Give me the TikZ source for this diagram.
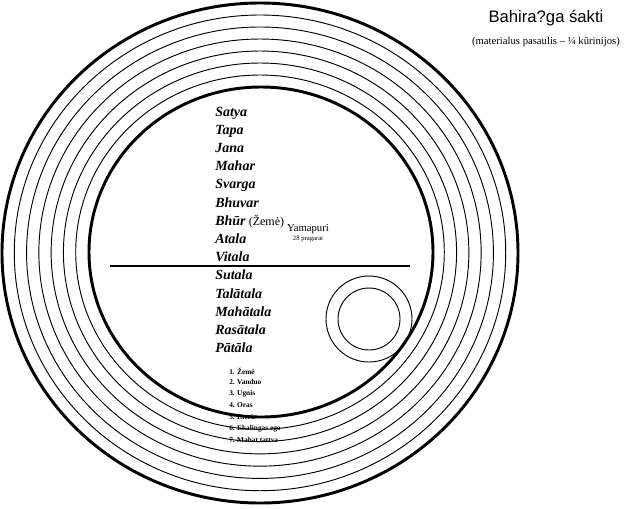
\documentclass[tikz,border=0pt]{standalone}
\usepackage{fontspec}
\setmainfont{Liberation Serif}
\newfontfamily\titlefont{Liberation Sans}
\usetikzlibrary{positioning}

\begin{document}
\begin{tikzpicture}[x=0.75pt, y=-0.75pt,
    ring/.style={draw, line width=0.7pt},
    rim/.style={draw, line width=2.2pt},
    loka/.style={anchor=base west, inner sep=0pt, font=\fontsize{10.5}{12}\selectfont\bfseries\itshape},
    cover/.style={anchor=west, inner sep=0pt, font=\fontsize{5.5}{6}\selectfont\bfseries},
]
    \useasboundingbox (0,0) rectangle (635,508);

    % apvalkalai
    \draw[rim] (260,253) ellipse [x radius=258, y radius=250];
    \foreach \k in {1,...,6} {
        \pgfmathsetmacro\cy{253-\k/7}
        \pgfmathsetmacro\rx{258-86*\k/7}
        \pgfmathsetmacro\ry{250-85*\k/7}
        \draw[ring] (260,\cy) ellipse [x radius=\rx, y radius=\ry];
    }
    \draw[rim] (261,252) ellipse [x radius=172, y radius=165];

    % skiriamoji linija ir mazi apskritimai
    \draw[line width=1pt] (110,266) -- (410,266);
    \draw[ring] (369,319) circle [radius=43];
    \draw[ring] (369,319) circle [radius=31];

    % pavadinimas
    \node[font=\titlefont\fontsize{12.5}{14}\selectfont] (title) at (546,18) {Bahira?ga śakti};
    \node[font=\fontsize{8}{9}\selectfont] (subtitle) at (546,42) {(materialus pasaulis – ¼ kūrinijos)};

    % lokos
    \foreach \name [count=\i from 0] in {Satya,Tapa,Jana,Mahar,Svarga,Bhuvar,Bhūr,Atala,Vitala,Sutala,Talātala,Mahātala,Rasātala,Pātāla}
        \node[loka] (l\i) at (215,116+18.2*\i) {\name};
    \node[anchor=base west, inner sep=0pt, font=\fontsize{9}{10}\selectfont] (zeme) at ([xshift=2pt]l6.base east) {(Žemė)};
    \node[font=\fontsize{8}{9}\selectfont, inner sep=0pt] (yama) at (308,229) {Yamapuri};
    \node[font=\fontsize{5}{6}\selectfont, inner sep=0pt] (pragarai) at (308,239) {28 pragarai};

    % septyni apvalkalai
    \foreach \txt [count=\i from 0] in {1. Žemė,2. Vanduo,3. Ugnis,4. Oras,5. Eteris,6. Ekalingas ego,7. Mahat tattva}
        \node[cover] (c\i) at (229,371+11.5*\i) {\txt};
\end{tikzpicture}
\end{document}
